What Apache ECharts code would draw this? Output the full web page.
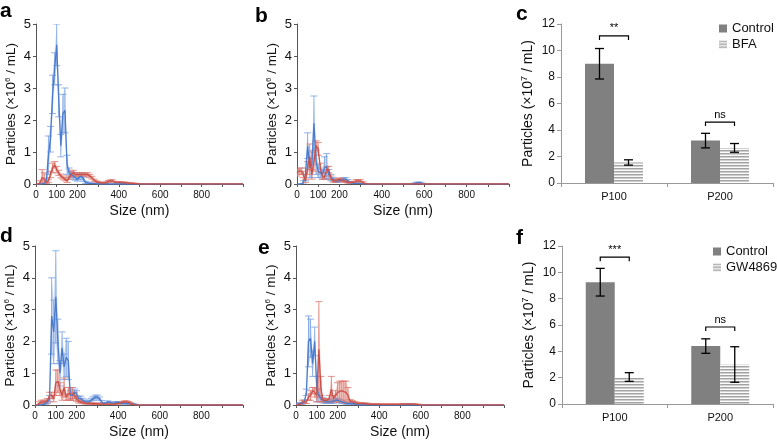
<!DOCTYPE html>
<html><head><meta charset="utf-8">
<script src="https://cdn.jsdelivr.net/npm/echarts@6/dist/echarts.min.js"></script>
<style>html,body{margin:0;padding:0;background:#fff}#c{width:777px;height:440px}</style>
</head><body><div id="c"></div>
<script>
// ---------- DATA ----------
const sizes = [0,10,20,30,40,50,60,70,80,90,100,110,120,130,140,150,160,170,180,190,200,210,220,230,240,250,260,270,280,290,300,310,320,330,340,350,360,370,380,390,400,410,420,430,440,450,460,470,480,490,500,510,520,530,540,550,560,570,580,590,600,1000];
const xTickLabels = [0,100,200,400,600,800];

const aBlueMean = [0,0,0,0,0.02,0.1,0.9,1.4,2.8,3.6, 4.35,2.6,1.2,2.2,2.3,0.6,0.35,0.3,0.25,0.2, 0.15,0.22,0.25,0.15,0.05,0.03,0.02,0.02,0.01,0.01, 0,0,0,0,0,0,0,0,0,0, 0,0,0,0,0,0,0,0,0,0, 0,0,0,0,0,0,0,0,0,0, 0,0];
const aBlueSd   = [0,0,0,0,0.02,0.08,0.6,0.4,0.6,0.5, 0.65,0.5,0.35,0.6,0.7,0.3,0.15,0.1,0.1,0.08, 0.06,0.08,0.1,0.06,0.03,0.02,0.01,0.01,0,0, 0,0,0,0,0,0,0,0,0,0, 0,0,0,0,0,0,0,0,0,0, 0,0,0,0,0,0,0,0,0,0, 0,0];
const aRedMean  = [0,0,0.05,0.2,0.15,0.05,0.1,0.3,0.5,0.6, 0.45,0.35,0.25,0.2,0.15,0.1,0.2,0.3,0.35,0.3, 0.3,0.3,0.3,0.3,0.3,0.3,0.25,0.2,0.12,0.08, 0.05,0.04,0.03,0.03,0.05,0.08,0.1,0.1,0.06,0.05, 0.05,0.05,0.04,0.04,0.03,0.03,0.02,0.02,0.01,0.01, 0,0,0,0,0,0,0,0,0,0, 0,0];
const aRedSd    = [0,0,0.05,0.25,0.2,0.05,0.05,0.1,0.15,0.1, 0.1,0.08,0.06,0.05,0.05,0.05,0.05,0.08,0.08,0.06, 0.05,0.05,0.05,0.05,0.05,0.05,0.05,0.04,0.03,0.02, 0.02,0.02,0.02,0.02,0.02,0.03,0.03,0.03,0.02,0.02, 0.02,0.02,0.02,0.02,0.02,0.01,0.01,0.01,0.01,0, 0,0,0,0,0,0,0,0,0,0, 0,0];

const bBlueMean = [0,0,0,0.05,0.3,1.2,0.5,0.6,1.9,0.7, 0.4,0.35,0.3,0.5,0.55,0.3,0.2,0.15,0.1,0.1, 0.1,0.12,0.15,0.15,0.1,0.05,0.03,0.02,0.02,0.02, 0.01,0,0,0,0,0,0,0,0,0, 0,0,0,0,0,0,0,0,0,0, 0,0,0,0,0,0,0.03,0.04,0.04,0.02, 0,0];
const bBlueSd   = [0,0,0,0.05,0.2,0.4,0.3,0.4,0.85,0.4, 0.2,0.15,0.15,0.35,0.4,0.15,0.1,0.05,0.05,0.05, 0.04,0.05,0.05,0.05,0.04,0.03,0.02,0.01,0.01,0.01, 0.01,0,0,0,0,0,0,0,0,0, 0,0,0,0,0,0,0,0,0,0, 0,0,0,0,0,0,0.02,0.02,0.02,0.01, 0,0];
const bRedMean  = [0.35,0.4,0.4,0.3,0.1,0.5,0.85,0.3,0.7,1.2, 1.1,0.5,0.25,0.2,0.45,0.45,0.2,0.1,0.1,0.12, 0.15,0.12,0.1,0.08,0.05,0.05,0.05,0.06,0.1,0.1, 0.1,0.05,0.01,0,0,0,0,0,0,0, 0,0,0,0,0,0,0,0,0,0, 0,0,0,0,0,0,0,0,0,0, 0,0];
const bRedSd    = [0.1,0.1,0.1,0.1,0.05,0.2,0.4,0.15,0.3,0.15, 0.2,0.15,0.1,0.05,0.1,0.1,0.05,0.04,0.04,0.04, 0.04,0.04,0.03,0.03,0.02,0.02,0.02,0.03,0.04,0.04, 0.03,0.02,0.01,0,0,0,0,0,0,0, 0,0,0,0,0,0,0,0,0,0, 0,0,0,0,0,0,0,0,0,0, 0,0];

const dBlueMean = [0,0,0,0,0.02,0.05,0.1,0.2,2.8,2.3, 3.4,2.0,1.0,1.8,1.2,1.5,1.4,0.3,0.3,0.4, 0.35,0.2,0.2,0.15,0.1,0.1,0.1,0.15,0.2,0.25, 0.25,0.2,0.1,0.05,0.05,0.1,0.08,0.05,0.05,0.08, 0.08,0.06,0.05,0.05,0.05,0.05,0.04,0.03,0.02,0, 0,0,0,0,0,0,0,0,0,0, 0,0];
const dBlueSd   = [0,0,0,0,0.02,0.03,0.05,0.1,1.2,1.0, 1.45,0.7,0.4,0.5,0.4,0.6,0.6,0.15,0.1,0.1, 0.1,0.08,0.08,0.06,0.05,0.05,0.05,0.06,0.06,0.06, 0.06,0.05,0.04,0.03,0.03,0.03,0.03,0.02,0.02,0.03, 0.03,0.02,0.02,0.02,0.02,0.02,0.02,0.01,0.01,0, 0,0,0,0,0,0,0,0,0,0, 0,0];
const dRedMean  = [0,0,0.05,0.1,0.1,0.1,0.15,0.3,0.3,0.2, 0.7,0.75,0.5,0.3,0.55,0.25,0.35,0.35,0.35,0.3, 0.2,0.12,0.1,0.08,0.06,0.05,0.05,0.04,0.04,0.04, 0.04,0.03,0.03,0.03,0.03,0.03,0.03,0.03,0.03,0.04, 0.05,0.06,0.08,0.1,0.1,0.08,0.05,0.02,0,0, 0,0,0,0,0,0,0,0,0,0, 0,0];
const dRedSd    = [0,0,0.05,0.05,0.05,0.05,0.05,0.1,0.1,0.1, 0.4,0.35,0.2,0.15,0.3,0.1,0.2,0.2,0.2,0.1, 0.08,0.05,0.04,0.03,0.03,0.02,0.02,0.02,0.02,0.02, 0.02,0.02,0.02,0.02,0.02,0.02,0.02,0.02,0.02,0.02, 0.02,0.02,0.03,0.03,0.03,0.03,0.02,0.01,0,0, 0,0,0,0,0,0,0,0,0,0, 0,0];

const eBlueMean = [0.02,0.03,0.05,0.05,0.1,0.4,2.0,2.1,1.3,2.0, 0.5,0.3,0.2,0.15,0.1,0.1,0.1,0.1,0.12,0.15, 0.15,0.12,0.1,0.08,0.06,0.05,0.05,0.05,0.04,0.02, 0,0,0,0,0,0,0,0,0,0, 0,0,0,0,0,0,0,0,0,0, 0,0,0,0,0,0,0,0,0,0, 0,0];
const eBlueSd   = [0.02,0.02,0.03,0.03,0.05,0.1,0.8,0.6,0.4,0.45, 0.4,0.2,0.1,0.08,0.05,0.05,0.05,0.05,0.06,0.06, 0.06,0.05,0.05,0.04,0.03,0.03,0.03,0.03,0.02,0.01, 0,0,0,0,0,0,0,0,0,0, 0,0,0,0,0,0,0,0,0,0, 0,0,0,0,0,0,0,0,0,0, 0,0];
const eRedMean  = [0,0,0.02,0.1,0.1,0.1,0.25,0.3,0.45,0.4, 0.3,1.75,0.5,0.15,0.15,0.15,0.2,0.5,0.2,0.3, 0.4,0.42,0.45,0.42,0.4,0.3,0.12,0.1,0.08,0.06, 0.05,0.05,0.05,0.04,0.04,0.03,0.02,0.02,0.02,0.02, 0.02,0.02,0.02,0.02,0.02,0.02,0.02,0.02,0.02,0.02, 0.02,0.03,0.03,0.03,0.03,0.03,0.03,0.02,0.02,0.01, 0,0];
const eRedSd    = [0,0,0.02,0.05,0.05,0.05,0.1,0.15,0.1,0.15, 0.2,1.5,0.4,0.05,0.05,0.05,0.1,0.4,0.1,0.15, 0.3,0.33,0.3,0.33,0.35,0.25,0.05,0.04,0.03,0.03, 0.02,0.02,0.02,0.02,0.02,0.02,0.02,0.02,0.02,0.02, 0.01,0.01,0.01,0.01,0.01,0.01,0.01,0.01,0.01,0.01, 0.01,0.01,0.01,0.01,0.01,0.01,0.01,0.01,0.01,0.01, 0,0];

const barCategories = ['P100','P200'];
const cControl = [9.0, 3.2];   const cControlErr = [1.15, 0.55];
const cBFA = [1.55, 2.65];     const cBFAErr = [0.2, 0.33];
const cSigY = [11.1, 4.6];     const cSigText = ['**','ns'];
const fControl = [9.25, 4.4];  const fControlErr = [1.05, 0.55];
const fGW = [2.05, 3.0];       const fGWErr = [0.33, 1.35];
const fSigY = [11.15, 5.85];   const fSigText = ['***','ns'];

// ---------- STYLE ----------
const FONT = '"Liberation Sans", Arial, Helvetica, sans-serif';
const BLUE = {line:'#4a7bcc', band:'rgba(120,160,225,0.38)', err:'rgba(120,160,225,0.8)'};
const RED  = {line:'#c9524b', band:'rgba(225,120,110,0.38)', err:'rgba(220,120,110,0.8)'};

const chart = echarts.init(document.getElementById('c'), null, {renderer:'canvas'});

const pat = document.createElement('canvas');
pat.width = 4; pat.height = 3;
(function(){ const g = pat.getContext('2d');
  g.fillStyle = '#fbfbfb'; g.fillRect(0,0,4,3);
  g.fillStyle = '#a3a3a3'; g.fillRect(0,0,4,1);
  g.fillStyle = '#cfcfcf'; g.fillRect(0,1,4,1); })();
const stripe = {image: pat, repeat: 'repeat'};

const grids = [
  {left:36, top:24, width:207, height:160},   // a
  {left:297, top:24, width:212, height:160},  // b
  {left:561, top:24, width:212, height:159},  // c
  {left:35, top:246, width:208, height:160},  // d
  {left:296, top:246, width:208, height:161}, // e
  {left:562, top:246, width:211, height:158}  // f
];

const yName = {
  name: 'Particles (×10{s|6} / mL)', nameLocation:'middle', nameGap:17,
  nameTextStyle:{fontFamily:FONT, fontSize:13.5, color:'#111',
    rich:{s:{fontFamily:FONT, fontSize:8, color:'#111', verticalAlign:'top', padding:[0,0,7,0]}}}
};

const xAxes = [], yAxes = [], series = [];
const ntaGridIdx = [0,1,3,4];
ntaGridIdx.forEach(gi => {
  xAxes.push({gridIndex:gi, type:'value', min:0, max:1000, interval:100,
    name:'Size (nm)', nameLocation:'middle', nameGap:20,
    nameTextStyle:{fontFamily:FONT, fontSize:14, color:'#111'},
    axisLine:{show:true, lineStyle:{color:'#555', width:1}},
    axisTick:{show:true, length:3, lineStyle:{color:'#555'}},
    axisLabel:{fontFamily:FONT, fontSize:10, color:'#111', margin:6,
      formatter: v => xTickLabels.indexOf(v) >= 0 ? String(v) : ''},
    splitLine:{show:false}});
  yAxes.push(Object.assign({gridIndex:gi, type:'value', min:0, max:5, interval:1,
    axisLine:{show:true, lineStyle:{color:'#555', width:1}},
    axisTick:{show:true, length:3, lineStyle:{color:'#555'}},
    axisLabel:{fontFamily:FONT, fontSize:13, color:'#111', margin:5},
    splitLine:{show:false}}, yName));
});
[2,5].forEach(gi => {
  xAxes.push({gridIndex:gi, type:'category', data:barCategories,
    axisLine:{show:true, lineStyle:{color:'#999'}},
    axisTick:{show:true, length:4, alignWithLabel:false, lineStyle:{color:'#999'}},
    axisLabel:{fontFamily:FONT, fontSize:11, color:'#111', margin:8}});
  yAxes.push({gridIndex:gi, type:'value', min:0, max:12, interval:2,
    axisLine:{show:true, lineStyle:{color:'#999'}},
    axisTick:{show:true, length:4, lineStyle:{color:'#999'}},
    axisLabel:{fontFamily:FONT, fontSize:12, color:'#111', margin:6},
    splitLine:{show:false},
    name:'Particles (×10{s|7} / mL)', nameLocation:'middle', nameGap:25,
    nameTextStyle:{fontFamily:FONT, fontSize:14, color:'#111',
      rich:{s:{fontFamily:FONT, fontSize:9, color:'#111', verticalAlign:'top', padding:[0,0,7,0]}}}});
});

function errRender(color){
  return function(params, api){
    const x = api.value(0), m = api.value(1), s = api.value(2);
    const t = api.coord([x, m + s]);
    const b = api.coord([x, Math.max(0, m - s)]);
    const w = 3.5, st = {stroke:color, lineWidth:1};
    return {type:'group', children:[
      {type:'line', shape:{x1:t[0], y1:t[1], x2:b[0], y2:b[1]}, style:st},
      {type:'line', shape:{x1:t[0]-w, y1:t[1], x2:t[0]+w, y2:t[1]}, style:st},
      {type:'line', shape:{x1:b[0]-w, y1:b[1], x2:b[0]+w, y2:b[1]}, style:st}
    ]};
  };
}
function bandRender(rows, color){
  return function(params, api){
    if (params.dataIndex !== 0) return null;
    const up = rows.map(r => api.coord([r[0], r[2]]));
    const lo = rows.map(r => api.coord([r[0], r[1]])).reverse();
    return {type:'polygon', shape:{points: up.concat(lo)}, style:{fill:color, stroke:null}};
  };
}

function addGroup(ai, mean, sd, col){
  const rows = sizes.map((x,i) => [x, Math.max(0, mean[i] - sd[i]), mean[i] + sd[i]]);
  series.push({type:'custom', xAxisIndex:ai, yAxisIndex:ai, renderItem:bandRender(rows, col.band), clip:true,
    data: rows, encode:{x:0, y:2}, silent:true});
  series.push({type:'custom', xAxisIndex:ai, yAxisIndex:ai, renderItem:errRender(col.err), clip:true,
    data: sizes.map((x,i) => [x, mean[i], sd[i]]).filter(d => d[2] > 0),
    encode:{x:0, y:1}, silent:true});
  series.push({type:'line', xAxisIndex:ai, yAxisIndex:ai, data:sizes.map((x,i) => [x, mean[i]]),
    symbol:'none', lineStyle:{width:1.3, color:col.line}, silent:true});
}
addGroup(0, aBlueMean, aBlueSd, BLUE); addGroup(0, aRedMean, aRedSd, RED);
addGroup(1, bBlueMean, bBlueSd, BLUE); addGroup(1, bRedMean, bRedSd, RED);
addGroup(2, dBlueMean, dBlueSd, BLUE); addGroup(2, dRedMean, dRedSd, RED);
addGroup(3, eBlueMean, eBlueSd, BLUE); addGroup(3, eRedMean, eRedSd, RED);

const BW = 29;
function barErr(offset){
  return function(params, api){
    const i = api.value(0), v = api.value(1), e = api.value(2);
    const t = api.coord([i, v + e]), b = api.coord([i, v - e]);
    const x = t[0] + offset, w = 4.5, st = {stroke:'#000', lineWidth:1.3};
    return {type:'group', children:[
      {type:'line', shape:{x1:x, y1:t[1], x2:x, y2:b[1]}, style:st},
      {type:'line', shape:{x1:x-w, y1:t[1], x2:x+w, y2:t[1]}, style:st},
      {type:'line', shape:{x1:x-w, y1:b[1], x2:x+w, y2:b[1]}, style:st}
    ]};
  };
}
function sigRender(texts){
  return function(params, api){
    const i = api.value(0), y = api.value(1);
    const p = api.coord([i, y]);
    const x1 = p[0] - BW/2, x2 = p[0] + BW/2, st = {stroke:'#000', lineWidth:1.2, fill:null};
    return {type:'group', children:[
      {type:'polyline', shape:{points:[[x1,p[1]+4],[x1,p[1]],[x2,p[1]],[x2,p[1]+4]]}, style:st},
      {type:'text', x:p[0], y:p[1]-2, style:{text:texts[params.dataIndex], fontFamily:FONT, fontSize:11,
        fill:'#000', align:'center', verticalAlign:'bottom'}}
    ]};
  };
}
function addBars(ai, ctrl, ctrlErr, trt, trtErr, trtName, sigY, sigText){
  series.push({type:'bar', name:'Control', xAxisIndex:ai, yAxisIndex:ai, data:ctrl, barWidth:BW, barGap:'0%',
    itemStyle:{color:'#808080'}, silent:true});
  series.push({type:'bar', name:trtName, xAxisIndex:ai, yAxisIndex:ai, data:trt, barWidth:BW, barGap:'0%',
    itemStyle:{color:stripe}, silent:true});
  series.push({type:'custom', xAxisIndex:ai, yAxisIndex:ai, renderItem:barErr(-BW/2),
    data:ctrl.map((v,i) => [i, v, ctrlErr[i]]), silent:true, z:5});
  series.push({type:'custom', xAxisIndex:ai, yAxisIndex:ai, renderItem:barErr(BW/2),
    data:trt.map((v,i) => [i, v, trtErr[i]]), silent:true, z:5});
  series.push({type:'custom', xAxisIndex:ai, yAxisIndex:ai, renderItem:sigRender(sigText),
    data:sigY.map((y,i) => [i, y]), silent:true, z:5});
}
addBars(4, cControl, cControlErr, cBFA, cBFAErr, 'BFA', cSigY, cSigText);
addBars(5, fControl, fControlErr, fGW, fGWErr, 'GW4869', fSigY, fSigText);

const legendBase = {orient:'vertical', icon:'rect', itemWidth:8, itemHeight:8, itemGap:3, selectedMode:false,
  padding:0, textStyle:{fontFamily:FONT, fontSize:13, color:'#111'}};
const letters = [['a',0,1],['b',255,6],['c',516,4],['d',0,226],['e',258,238],['f',516,228]];

chart.setOption({
  animation:false,
  backgroundColor:'#fff',
  grid: grids,
  xAxis: xAxes,
  yAxis: yAxes,
  legend: [
    Object.assign({data:['Control','BFA'], left:719, top:22}, legendBase),
    Object.assign({data:['Control','GW4869'], left:713, top:245}, legendBase)
  ],
  graphic: letters.map(l => ({type:'text', left:l[1], top:l[2],
    style:{text:l[0], font:'bold 21px ' + FONT, fill:'#000'}})),
  series: series
});
</script></body></html>
